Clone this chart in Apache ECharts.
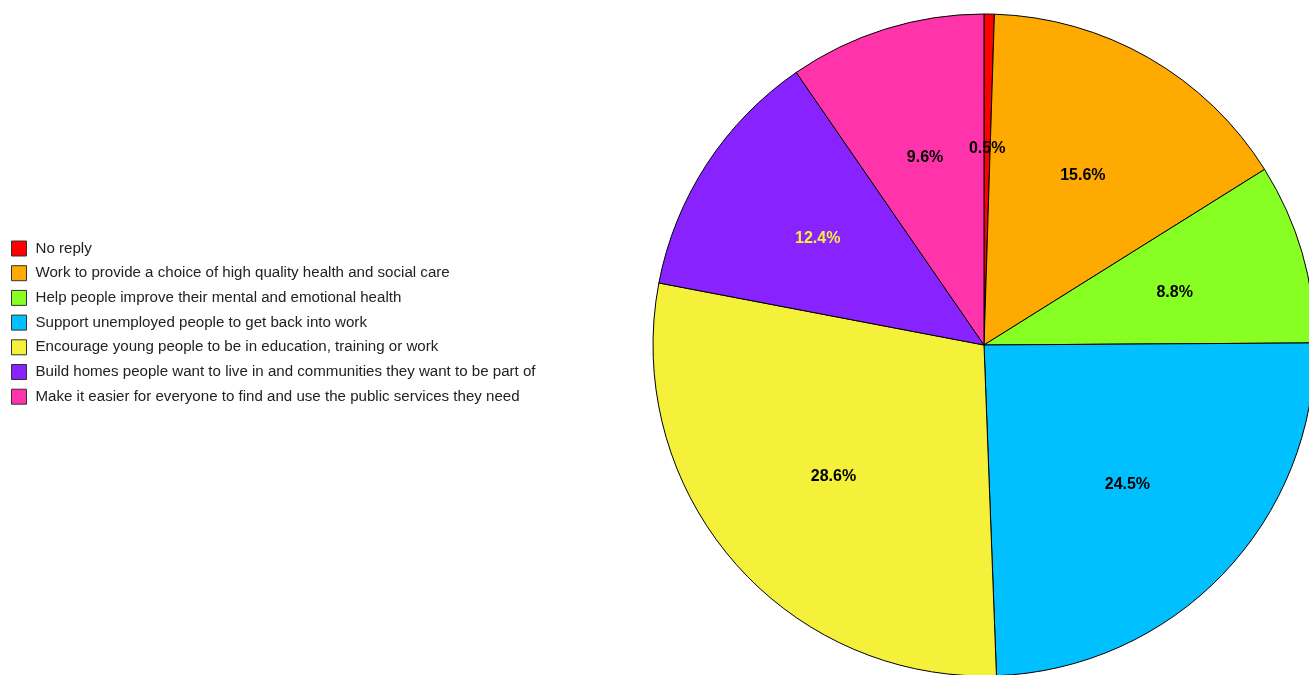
<!DOCTYPE html>
<html>
<head>
<meta charset="utf-8">
<script src="https://cdn.jsdelivr.net/npm/echarts@6/dist/echarts.min.js"></script>
<style>html,body{margin:0;padding:0;background:#fff;}#c{width:1309px;height:675px;}</style>
</head>
<body>
<div id="c"></div>
<script>
var categories = [
  "No reply",
  "Work to provide a choice of high quality health and social care",
  "Help people improve their mental and emotional health",
  "Support unemployed people to get back into work",
  "Encourage young people to be in education, training or work",
  "Build homes people want to live in and communities they want to be part of",
  "Make it easier for everyone to find and use the public services they need"
];
var values = [0.5, 15.6, 8.8, 24.5, 28.6, 12.4, 9.6];
var colors = ["#ff0000", "#ffaa00", "#88ff22", "#00c0ff", "#f5f03a", "#8822ff", "#ff33aa"];
var labelColors = ["#000", "#000", "#000", "#000", "#000", "#f5f03a", "#000"];

var mainData = categories.map(function (c, i) {
  return { name: c, value: values[i], itemStyle: { color: colors[i] } };
});
var labelData = categories.map(function (c, i) {
  return { name: c, value: values[i], label: { color: labelColors[i] } };
});

var chart = echarts.init(document.getElementById('c'));
chart.setOption({
  animation: false,
  legend: {
    orient: 'vertical',
    left: 11,
    top: 240.5,
    itemWidth: 15,
    itemHeight: 15,
    itemGap: 8.7,
    icon: 'rect',
    textStyle: { fontFamily: 'Liberation Sans, Arial, sans-serif', fontSize: 15.1, lineHeight: 15, color: '#222', padding: [0, 0, 0, 4] },
    itemStyle: { borderColor: '#333', borderWidth: 1 },
    padding: 0,
    data: categories
  },
  series: [{
    type: 'pie',
    center: [984, 345],
    radius: [0, 331],
    startAngle: 90,
    clockwise: true,
    avoidLabelOverlap: false,
    label: { show: false },
    labelLine: { show: false },
    emphasis: { disabled: true },
    itemStyle: { borderColor: '#000', borderWidth: 1 },
    data: mainData
  }, {
    type: 'pie',
    center: [984, 345],
    radius: [60, 331],
    startAngle: 90,
    clockwise: true,
    silent: true,
    avoidLabelOverlap: false,
    legendHoverLink: false,
    itemStyle: { color: 'rgba(0,0,0,0)', borderWidth: 0 },
    labelLine: { show: false },
    label: {
      show: true,
      position: 'inside',
      offset: [0, 2.5],
      fontFamily: 'Liberation Sans, Arial, sans-serif',
      fontWeight: 'bold',
      fontSize: 16,
      formatter: function (p) { return p.value.toFixed(1) + '%'; }
    },
    emphasis: { disabled: true },
    data: labelData
  }]
});
</script>
</body>
</html>
